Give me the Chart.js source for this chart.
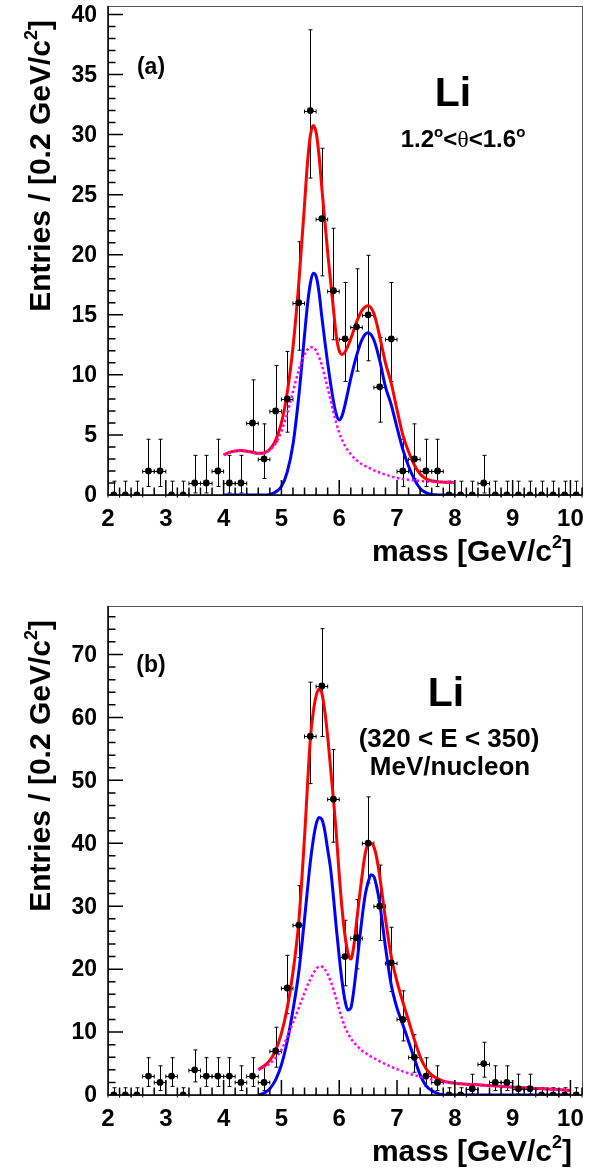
<!DOCTYPE html>
<html>
<head>
<meta charset="utf-8">
<script src="https://cdn.jsdelivr.net/npm/chart.js@4.4.1/dist/chart.umd.min.js"></script>
<style>
  html, body { margin: 0; padding: 0; background: #fff; }
  #wrap { position: relative; width: 601px; height: 1168px; }
  canvas { position: absolute; left: 0; }
</style>
</head>
<body>
<div id="wrap">
  <canvas id="massA" width="601" height="600" style="top:0"></canvas>
  <canvas id="massB" width="601" height="568" style="top:600px"></canvas>
</div>
<script>
// 0.2 GeV/c^2 bins from 2.0 to 10.2
const binCenters = [2.1, 2.3, 2.5, 2.7, 2.9, 3.1, 3.3, 3.5, 3.7, 3.9, 4.1, 4.3, 4.5, 4.7, 4.9,
  5.1, 5.3, 5.5, 5.7, 5.9, 6.1, 6.3, 6.5, 6.7, 6.9, 7.1, 7.3, 7.5, 7.7, 7.9, 8.1, 8.3, 8.5,
  8.7, 8.9, 9.1, 9.3, 9.5, 9.7, 9.9, 10.1];

// entries per bin, (a) 1.2 < theta < 1.6 deg, (b) 320 < E < 350 MeV/nucleon
const countsA = [0, 0, 0, 2, 2, 0, 0, 1, 1, 2, 1, 1, 6, 3, 7, 8, 16, 32, 23, 17, 13, 14, 15, 9, 13,
  2, 3, 2, 2, 0, 0, 0, 1, 0, 0, 0, 0, 0, 0, 0, 0];
const countsB = [0, 0, 0, 3, 2, 3, 0, 4, 3, 3, 3, 2, 3, 2, 7, 17, 27, 57, 65, 47, 22, 25, 40, 30, 21,
  12, 6, 3, 2, 0, 0, 1, 5, 2, 2, 1, 1, 0, 0, 0, 0];

// 68% Poisson band per count: [below, above]
const poissonBand = {
  0: [0, 1.15], 1: [0.83, 2.30], 2: [1.29, 2.64], 3: [1.63, 2.92], 4: [1.91, 3.16],
  5: [2.16, 3.38], 6: [2.38, 3.58], 7: [2.58, 3.77], 8: [2.77, 3.95], 9: [2.94, 4.11],
  12: [3.41, 4.55], 13: [3.55, 4.69], 14: [3.69, 4.83], 15: [3.83, 4.95], 16: [3.95, 5.08],
  17: [4.08, 5.20], 21: [4.54, 5.65], 22: [4.65, 5.76], 23: [4.76, 5.86], 25: [4.96, 6.06],
  27: [5.16, 6.26], 30: [5.44, 6.54], 32: [5.62, 6.72], 40: [6.30, 7.37], 47: [6.83, 7.90],
  57: [7.52, 8.59], 65: [8.04, 9.10]
};

// fit curves (a): total, Li signal, background
const fitXA = [4.0, 4.1, 4.2, 4.3, 4.4, 4.5, 4.6, 4.7, 4.8, 4.9, 5.0, 5.1, 5.2, 5.3, 5.4, 5.45,
  5.5, 5.55, 5.6, 5.65, 5.7, 5.8, 5.9, 5.95, 6.0, 6.05, 6.1, 6.2, 6.3, 6.4, 6.5, 6.6, 6.7, 6.8,
  6.9, 7.0, 7.1, 7.2, 7.3, 7.4, 7.5, 7.6, 7.7, 7.8, 7.9, 8.0];
const totalA = [3.33, 3.55, 3.66, 3.70, 3.65, 3.55, 3.47, 3.50, 3.80, 4.55, 6.0, 8.5, 12.3, 17.6,
  24.2, 27.6, 29.9, 30.75, 30.2, 28.3, 25.5, 20.2, 15.5, 13.2, 12.0, 11.7, 11.9, 13.0, 14.4, 15.4,
  15.75, 15.1, 13.2, 11.0, 9.3, 7.1, 5.0, 3.6, 2.5, 1.75, 1.35, 1.18, 1.10, 1.07, 1.06, 1.05];
const signalA = [0, 0, 0, 0, 0, 0, 0, 0, 0.05, 0.25, 0.7, 1.9, 4.2, 8.2, 13.3, 15.8, 17.6, 18.45,
  18.2, 16.9, 14.8, 11.0, 7.8, 6.7, 6.25, 6.6, 7.5, 9.7, 11.6, 13.0, 13.5, 12.9, 11.2, 9.0, 7.5,
  5.6, 3.8, 2.4, 1.3, 0.55, 0.2, 0.05, 0.01, 0, 0, 0];
const bkgA = [3.33, 3.55, 3.66, 3.70, 3.65, 3.55, 3.47, 3.50, 3.75, 4.3, 5.3, 6.8, 8.6, 10.4, 11.7,
  12.1, 12.3, 12.3, 12.0, 11.5, 10.8, 8.9, 6.9, 6.0, 5.2, 4.6, 4.1, 3.4, 2.9, 2.55, 2.3, 2.05,
  1.87, 1.7, 1.55, 1.42, 1.34, 1.27, 1.22, 1.17, 1.13, 1.1, 1.08, 1.07, 1.06, 1.05];

// fit curves (b)
const fitXB = [4.6, 4.7, 4.8, 4.9, 5.0, 5.1, 5.2, 5.3, 5.4, 5.5, 5.55, 5.6, 5.65, 5.7, 5.75, 5.8,
  5.85, 5.9, 5.95, 6.0, 6.05, 6.1, 6.15, 6.2, 6.25, 6.3, 6.4, 6.45, 6.5, 6.55, 6.6, 6.65, 6.7,
  6.8, 6.9, 7.0, 7.1, 7.2, 7.3, 7.4, 7.5, 7.6, 7.7, 7.8, 7.9, 8.0, 8.2, 8.5, 8.8, 9.1, 9.4, 9.7,
  10.0];
const totalB = [4.05, 4.6, 5.5, 7.1, 9.8, 13.8, 19.5, 27.5, 41.0, 56.5, 60.8, 63.4, 64.5, 63.8,
  61.0, 57.0, 52.0, 47.0, 41.5, 35.0, 29.5, 25.3, 22.6, 21.6, 23.5, 27.5, 35.2, 38.4, 39.8, 40.0,
  39.4, 37.6, 34.8, 28.0, 22.0, 18.0, 14.8, 11.8, 8.8, 6.1, 4.2, 3.2, 2.6, 2.2, 2.0, 1.88, 1.72,
  1.55, 1.37, 1.2, 1.05, 0.9, 0.73];
const signalB = [0, 0.3, 1.0, 2.4, 4.8, 8.5, 13.5, 19.5, 28, 37, 40.5, 43, 44.1, 43.8, 42, 39, 36,
  31.5, 26.5, 22, 18, 15, 13.5, 13.8, 16.5, 20.4, 28.5, 31.8, 33.8, 35, 34.7, 33, 30.5, 23.5, 17.5,
  13.8, 11.2, 8.5, 5.8, 3.2, 1.5, 0.7, 0.25, 0.05, 0, 0, 0, 0, 0, 0, 0, 0, 0];
const bkgB = [4.0, 4.4, 5.0, 5.9, 7.2, 9.2, 11.5, 13.8, 16.3, 18.4, 19.3, 20.0, 20.4, 20.4, 20.0,
  19.2, 18.1, 16.8, 15.2, 13.6, 12.1, 10.8, 9.8, 9.0, 8.4, 7.9, 7.0, 6.7, 6.4, 6.1, 5.85, 5.6,
  5.35, 4.9, 4.5, 4.1, 3.75, 3.45, 3.15, 2.9, 2.65, 2.45, 2.25, 2.1, 1.97, 1.87, 1.72, 1.55, 1.37,
  1.2, 1.05, 0.9, 0.73];

const xTickLabels = [2, 3, 4, 5, 6, 7, 8, 9, 10];
const yTickLabelsA = [0, 5, 10, 15, 20, 25, 30, 35, 40];
const yTickLabelsB = [0, 10, 20, 30, 40, 50, 60, 70];

const SANS = '"Liberation Sans", Arial, Helvetica, sans-serif';
const SERIF = '"Liberation Serif", "DejaVu Serif", serif';
const bold = px => `bold ${px}px ${SANS}`;

// draws a run of text pieces (for superscripts) as one label
function drawParts(ctx, parts, x, y, align) {
  let w = 0;
  parts.forEach(p => { ctx.font = p.font; w += ctx.measureText(p.text).width; });
  let cx = align === 'right' ? x - w : align === 'center' ? x - w / 2 : x;
  ctx.textAlign = 'left';
  ctx.textBaseline = 'alphabetic';
  parts.forEach(p => {
    ctx.font = p.font;
    ctx.fillText(p.text, cx, y + (p.dy || 0));
    cx += ctx.measureText(p.text).width;
  });
}

const unitParts = pre => [
  { text: pre + 'GeV/c', font: bold(30) },
  { text: '2', font: bold(18), dy: -13 },
  { text: ']', font: bold(30) }
];

const rootAxes = {
  id: 'rootAxes',
  // error bars sit below the fit curves
  beforeDatasetsDraw(chart) {
    const { ctx, scales: { x, y } } = chart;
    ctx.save();
    ctx.strokeStyle = '#000';
    ctx.lineWidth = 1;
    chart.data.datasets[0].data.forEach(p => {
      const [dn, up] = poissonBand[p.y];
      const px = Math.round(x.getPixelForValue(p.x)) + 0.5;
      const py = Math.round(y.getPixelForValue(p.y)) + 0.5;
      const yTop = y.getPixelForValue(p.y + up);
      const yBot = y.getPixelForValue(p.y - dn);
      const xl = x.getPixelForValue(p.x - 0.1);
      const xr = x.getPixelForValue(p.x + 0.1);
      ctx.beginPath();
      ctx.moveTo(px, yTop); ctx.lineTo(px, yBot);
      ctx.moveTo(px - 2, yTop); ctx.lineTo(px + 2, yTop);
      if (dn > 0) { ctx.moveTo(px - 2, yBot); ctx.lineTo(px + 2, yBot); }
      ctx.moveTo(xl, py); ctx.lineTo(xr, py);
      ctx.moveTo(xl, py - 2); ctx.lineTo(xl, py + 2);
      ctx.moveTo(xr, py - 2); ctx.lineTo(xr, py + 2);
      ctx.stroke();
    });
    ctx.restore();
  },
  afterDraw(chart, args, o) {
    const { ctx, chartArea: a, scales: { x, y } } = chart;
    ctx.save();
    // frame
    ctx.strokeStyle = '#555';
    ctx.lineWidth = 1;
    ctx.strokeRect(a.left + 0.5, a.top + 0.5, a.right - a.left, a.bottom - a.top);
    ctx.strokeStyle = '#000';
    ctx.lineWidth = 1.5;
    ctx.beginPath();
    ctx.moveTo(a.left, a.top); ctx.lineTo(a.left, a.bottom); ctx.lineTo(a.right, a.bottom);
    // y ticks, drawn inward
    const perMajY = Math.round(o.yMajor / o.yMinor);
    for (let k = 0; k * o.yMinor <= y.max; k++) {
      const py = y.getPixelForValue(k * o.yMinor);
      ctx.moveTo(a.left, py);
      ctx.lineTo(a.left + (k % perMajY === 0 ? 15 : 7.5), py);
    }
    // x ticks: minor every 0.2, major every 1
    for (let k = 0; 2 + k * 0.2 <= x.max + 1e-9; k++) {
      const px = x.getPixelForValue(2 + k * 0.2);
      ctx.moveTo(px, a.bottom);
      ctx.lineTo(px, a.bottom - (k % 5 === 0 ? 15 : 7.5));
    }
    ctx.stroke();

    ctx.fillStyle = '#000';
    ctx.font = bold(23);
    ctx.textAlign = 'right';
    ctx.textBaseline = 'middle';
    o.yLabels.forEach(v => ctx.fillText(String(v), a.left - 11, y.getPixelForValue(v) + 1));
    ctx.textAlign = 'center';
    ctx.font = bold(24);
    xTickLabels.forEach(v => ctx.fillText(String(v), x.getPixelForValue(v), a.bottom + 24));

    // axis titles
    drawParts(ctx, [{ text: 'mass [', font: bold(30) }, ...unitParts('')], a.right - 10, a.bottom + 66, 'right');
    ctx.save();
    ctx.translate(50, 20);
    ctx.rotate(-Math.PI / 2);
    drawParts(ctx, unitParts('Entries / [0.2 '), 0, 0, 'right');
    ctx.restore();

    // panel notes
    o.notes.forEach(n => drawParts(ctx, n.parts, n.x, n.y, 'center'));
    ctx.restore();
  }
};

function makePanel(id, counts, fitX, total, signal, bkg, yMax, bottomPad, axisOpts) {
  const pts = binCenters.map((c, i) => ({ x: c, y: counts[i] }));
  const curve = ys => fitX.map((v, i) => ({ x: v, y: ys[i] }));
  const line = {
    showLine: true, pointRadius: 0, cubicInterpolationMode: 'monotone', fill: false
  };
  return new Chart(document.getElementById(id), {
    type: 'scatter',
    data: {
      datasets: [
        { data: pts, pointRadius: 3.4, pointBackgroundColor: '#000', pointBorderWidth: 0, order: 0 },
        { ...line, data: curve(bkg), borderColor: '#ff00ff', borderWidth: 2.5, borderDash: [2.5, 2.5], order: 1 },
        { ...line, data: curve(signal), borderColor: '#0000ff', borderWidth: 3, order: 2 },
        { ...line, data: curve(total), borderColor: '#ff0000', borderWidth: 3, order: 3 }
      ]
    },
    options: {
      responsive: false,
      animation: false,
      devicePixelRatio: 1,
      layout: { padding: { left: 108, top: 6, right: 19, bottom: bottomPad }, autoPadding: false },
      scales: {
        x: { type: 'linear', min: 2, max: 10.2, display: false },
        y: { type: 'linear', min: 0, max: yMax, display: false }
      },
      plugins: { legend: { display: false }, tooltip: { enabled: false }, rootAxes: axisOpts }
    },
    plugins: [rootAxes]
  });
}

makePanel('massA', countsA, fitXA, totalA, signalA, bkgA, 40.7, 105, {
  yMajor: 5, yMinor: 1, yLabels: yTickLabelsA,
  notes: [
    { x: 151, y: 74, parts: [{ text: '(a)', font: bold(23) }] },
    { x: 453, y: 106, parts: [{ text: 'Li', font: bold(41) }] },
    { x: 463, y: 147, parts: [
      { text: '1.2', font: bold(24) }, { text: 'o', font: bold(15), dy: -10 },
      { text: '<', font: bold(24) }, { text: '\u03b8', font: `24px ${SERIF}` },
      { text: '<1.6', font: bold(24) }, { text: 'o', font: bold(15), dy: -10 }
    ] }
  ]
});

makePanel('massB', countsB, fitXB, totalB, signalB, bkgB, 77.7, 73, {
  yMajor: 10, yMinor: 2, yLabels: yTickLabelsB,
  notes: [
    { x: 151, y: 72, parts: [{ text: '(b)', font: bold(23) }] },
    { x: 446, y: 106, parts: [{ text: 'Li', font: bold(41) }] },
    { x: 449, y: 147, parts: [{ text: '(320 < E < 350)', font: bold(26) }] },
    { x: 450, y: 175, parts: [{ text: 'MeV/nucleon', font: bold(26) }] }
  ]
});
</script>
</body>
</html>
